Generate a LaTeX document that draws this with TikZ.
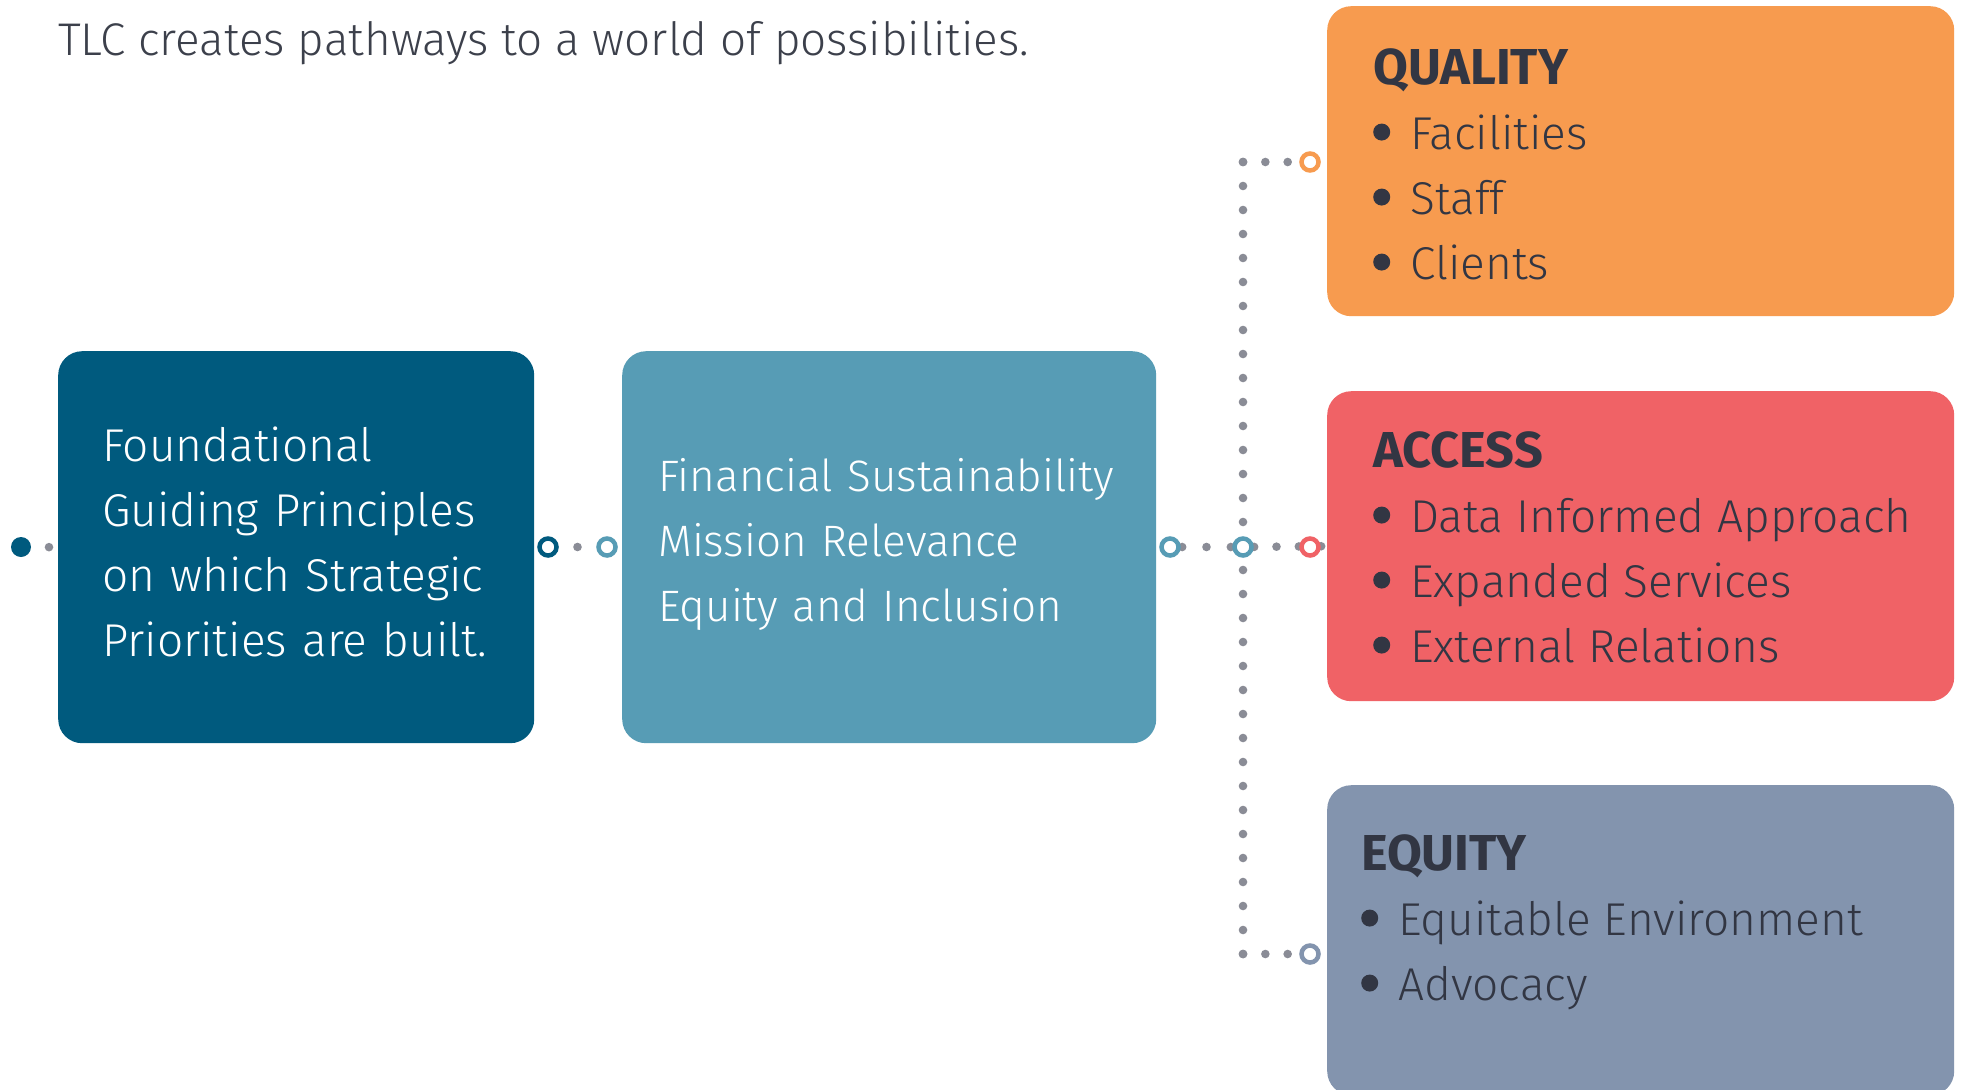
\documentclass[tikz,border=0pt]{standalone}
\usepackage{fontspec}
\setmainfont{Fira Sans}[UprightFont=* Light, BoldFont=* Bold]
\usetikzlibrary{positioning,backgrounds}

\definecolor{tlcnavy}{HTML}{005A7E}
\definecolor{tlcteal}{HTML}{579CB5}
\definecolor{tlcorange}{HTML}{F79B4F}
\definecolor{tlcred}{HTML}{F06266}
\definecolor{tlcslate}{HTML}{8394AE}
\definecolor{tlcink}{HTML}{323643}
\definecolor{tlcdot}{HTML}{8A8C96}
\definecolor{tlctitle}{HTML}{3C404B}

% round bullet, centred 17pt above the baseline
\newcommand{\tlcbullet}{\makebox[37pt][l]{\tikz[baseline={(0,-17pt)}]\fill[tlcink] (8.5pt,0pt) circle (8.5pt);}}
\newcommand{\tlchead}[1]{{\fontsize{50.5}{65}\selectfont\bfseries #1}}
% extra depth on a last line lifts the block text a little
\newcommand{\tlclift}[1]{\rule[-#1]{0pt}{#1}}

\begin{document}
\begin{tikzpicture}[x=1pt, y=-1pt,
  block/.style={rounded corners=24pt, anchor=north west, inner ysep=0pt, align=left, text=white,
    font=\fontsize{44}{65}\selectfont},
  pillar/.style={rounded corners=24pt, anchor=north west, minimum width=627pt, minimum height=310pt},
  list/.style={anchor=north west, inner sep=0pt, align=left, text=tlcink,
    font=\fontsize{46}{65}\selectfont},
  ring/.style={circle, draw=#1, fill=white, line width=4.5pt, minimum size=17pt, inner sep=0pt},
  dotline/.style={tlcdot, line width=8.6pt, line cap=round, dash pattern=on 0pt off #1pt}]
\useasboundingbox (0,0) rectangle (1961,1089);

\node[anchor=base west, inner sep=0pt, text=tlctitle, font=\fontsize{45.8}{54}\selectfont] (title) at (58,56)
  {TLC creates pathways to a world of possibilities.};

% the two left blocks
\node[block, fill=tlcnavy, minimum width=476pt, minimum height=392pt, inner xsep=44pt, text width=388pt,
  font=\fontsize{46}{65}\selectfont] (found) at (58,351)
  {Foundational\\Guiding Principles\\on which Strategic\\Priorities are built.\tlclift{11pt}};
\node[block, fill=tlcteal, minimum width=534pt, minimum height=392pt, inner xsep=36pt, text width=462pt] (pillars) at (622,351)
  {Financial Sustainability\\Mission Relevance\\Equity and Inclusion\tlclift{15pt}};

% priority boxes
\node[pillar, fill=tlcorange] (quality) at (1327,6) {};
\node[pillar, fill=tlcred] (access) at (1327,391) {};
\node[pillar, fill=tlcslate] (equity) at (1327,785) {};

\node[list] (qualitytext) at (1373,48)
  {\tlchead{QUALITY}\\\tlcbullet Facilities\\\tlcbullet Staff\\\tlcbullet Clients};
\node[list] (accesstext) at (1373,431)
  {\tlchead{ACCESS}\\\tlcbullet Data Informed Approach\\\tlcbullet Expanded Services\\\tlcbullet External Relations};
\node[list] (equitytext) at (1361,834)
  {\tlchead{EQUITY}\\\tlcbullet Equitable Environment\\\tlcbullet Advocacy};

% joints
\node[circle, fill=tlcnavy, minimum size=20pt, inner sep=0pt] (lead) at (21,547) {};
\node[ring=tlcnavy] (foundout) at (548,547) {};
\node[ring=tlcteal] (pillarsin) at (607,547) {};
\node[ring=tlcteal] (pillarsout) at (1170,547) {};
\node[ring=tlcteal] (hub) at (1243,547) {};
\node[ring=tlcorange] (qualityin) at (1310,162) {};
\node[ring=tlcred] (accessin) at (1310,547) {};
\node[ring=tlcslate] (equityin) at (1310,954) {};
\coordinate (qcorner) at (1243,162);
\coordinate (ecorner) at (1243,954);

\begin{scope}[on background layer]
\fill[white] (0,0) rectangle (1961,1089);
\draw[dotline=28] (lead.center) -- (found.west);
\draw[dotline=29.5] (foundout.center) -- (pillarsin.center);
\draw[dotline=24.33, dash phase=12.17pt] (pillarsout.center) -- (hub.center);
\draw[dotline=22.33, dash phase=11.17pt] (hub.center) -- (access.west);
\draw[dotline=24] (qcorner) -- (ecorner);
\draw[dotline=22.33] (qcorner) -- (qualityin.center);
\draw[dotline=22.33] (ecorner) -- (equityin.center);
\end{scope}
\end{tikzpicture}
\end{document}
